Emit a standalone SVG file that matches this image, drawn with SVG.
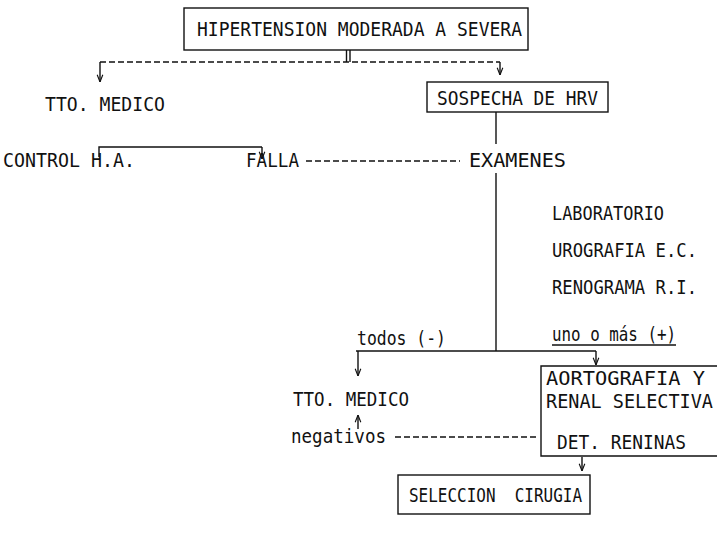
<svg xmlns="http://www.w3.org/2000/svg" width="717" height="555" viewBox="0 0 717 555">
<defs>
<style>
text{font-family:"DejaVu Sans Mono","Liberation Mono",monospace;font-size:19px;fill:#111;}
.ln{stroke:#111;stroke-width:1.4;fill:none;}
.ds{stroke:#111;stroke-width:1.4;fill:none;stroke-dasharray:6 3;}
.bx{stroke:#111;stroke-width:1.4;fill:none;}
</style>
<marker id="v" viewBox="0 0 10 10" refX="10" refY="5" markerWidth="8" markerHeight="8" orient="auto" markerUnits="userSpaceOnUse">
<path d="M1,1.5 L10,5 L1,8.5" fill="none" stroke="#111" stroke-width="1.4"/>
</marker>
</defs>
<rect width="717" height="555" fill="#fff"/>
<g id="connectors">
<line class="ln" x1="346.5" y1="50" x2="346.5" y2="62"/>
<line class="ln" x1="350" y1="50" x2="350" y2="62"/>
<line class="ds" x1="100" y1="62" x2="500" y2="62"/>
<line class="ln" x1="100" y1="62" x2="100" y2="82" marker-end="url(#v)"/>
<line class="ln" x1="500" y1="62" x2="500" y2="75" marker-end="url(#v)"/>
<line class="ln" x1="496" y1="112" x2="496" y2="144"/>
<polyline class="ln" points="99,157 99,147 262,147"/>
<line class="ln" x1="262" y1="147" x2="262" y2="159" marker-end="url(#v)"/>
<line class="ds" x1="306" y1="161" x2="460" y2="161"/>
<line class="ln" x1="496" y1="173" x2="496" y2="351"/>
<line class="ln" x1="356" y1="351" x2="596" y2="351"/>
<line class="ln" x1="358" y1="351" x2="358" y2="376" marker-end="url(#v)"/>
<line class="ln" x1="596" y1="351" x2="596" y2="365" marker-end="url(#v)"/>
<line class="ln" x1="358" y1="429" x2="358" y2="415" marker-end="url(#v)"/>
<line class="ds" x1="395" y1="437" x2="538" y2="437"/>
<line class="ln" x1="582" y1="457" x2="582" y2="471" marker-end="url(#v)"/>
<line class="ln" x1="552" y1="345" x2="676" y2="345"/>
</g>
<g id="n-hipertension">
<rect class="bx" x="184" y="8" width="344" height="42"/>
<text x="197" y="36" textLength="325" lengthAdjust="spacingAndGlyphs">HIPERTENSION MODERADA A SEVERA</text>
</g>
<g id="n-tto1"><text x="45" y="111" textLength="120" lengthAdjust="spacingAndGlyphs">TTO. MEDICO</text></g>
<g id="n-sospecha">
<rect class="bx" x="427" y="82" width="181" height="30"/>
<text x="437" y="105" textLength="161" lengthAdjust="spacingAndGlyphs">SOSPECHA DE HRV</text>
</g>
<g id="n-control"><text x="3" y="167" textLength="132" lengthAdjust="spacingAndGlyphs">CONTROL H.A.</text></g>
<g id="n-falla"><text x="246" y="167" textLength="53" lengthAdjust="spacingAndGlyphs">FALLA</text></g>
<g id="n-examenes"><text x="469" y="167" textLength="97" lengthAdjust="spacingAndGlyphs">EXAMENES</text></g>
<g id="n-lab"><text x="552" y="220" textLength="112" lengthAdjust="spacingAndGlyphs">LABORATORIO</text></g>
<g id="n-uro"><text x="552" y="257" textLength="145" lengthAdjust="spacingAndGlyphs">UROGRAFIA E.C.</text></g>
<g id="n-reno"><text x="552" y="294" textLength="145" lengthAdjust="spacingAndGlyphs">RENOGRAMA R.I.</text></g>
<g id="n-todos"><text x="357" y="345" textLength="89" lengthAdjust="spacingAndGlyphs">todos (-)</text></g>
<g id="n-uno"><text x="552" y="341" textLength="124" lengthAdjust="spacingAndGlyphs">uno o más (+)</text></g>
<g id="n-tto2"><text x="293" y="406" textLength="116" lengthAdjust="spacingAndGlyphs">TTO. MEDICO</text></g>
<g id="n-negativos"><text x="291" y="443" textLength="95" lengthAdjust="spacingAndGlyphs">negativos</text></g>
<g id="n-aorto">
<polyline class="bx" points="717,366 541,366 541,456 717,456"/>
<text x="546" y="385" textLength="159" lengthAdjust="spacingAndGlyphs">AORTOGRAFIA Y</text>
<text x="546" y="408" textLength="167" lengthAdjust="spacingAndGlyphs">RENAL SELECTIVA</text>
<text x="557" y="449" textLength="129" lengthAdjust="spacingAndGlyphs">DET. RENINAS</text>
</g>
<g id="n-seleccion">
<rect class="bx" x="398" y="475" width="192" height="39"/>
<text x="409" y="502" textLength="173" lengthAdjust="spacingAndGlyphs" xml:space="preserve">SELECCION  CIRUGIA</text>
</g>
</svg>
